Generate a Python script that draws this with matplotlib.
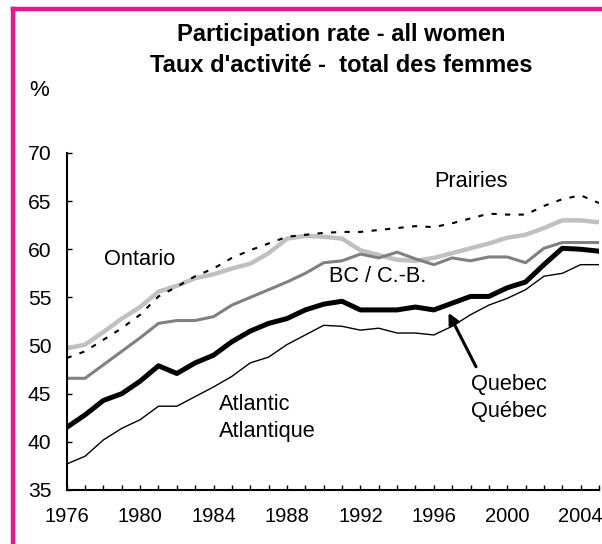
import matplotlib
matplotlib.use("Agg")
import matplotlib.pyplot as plt
from matplotlib.lines import Line2D
from matplotlib.ticker import MultipleLocator
import numpy as np

plt.rcParams['font.family'] = ['Liberation Sans', 'DejaVu Sans']

# Participation rate of women by region, 1976-2005 (%)
years = np.arange(1976, 2006)
atlantic = [37.7, 38.5, 40.2, 41.4, 42.3, 43.7, 43.7, 44.7, 45.7, 46.8,
            48.2, 48.8, 50.1, 51.1, 52.1, 52.0, 51.6, 51.8, 51.3, 51.3,
            51.1, 52.0, 53.2, 54.2, 54.9, 55.8, 57.2, 57.5, 58.4, 58.4]
quebec = [41.5, 42.8, 44.3, 45.0, 46.3, 47.9, 47.1, 48.2, 49.0, 50.4,
          51.5, 52.3, 52.8, 53.7, 54.3, 54.6, 53.7, 53.7, 53.7, 54.0,
          53.7, 54.4, 55.1, 55.1, 56.0, 56.6, 58.4, 60.1, 60.0, 59.8]
bc = [46.6, 46.6, 48.0, 49.4, 50.8, 52.3, 52.6, 52.6, 53.0, 54.2,
      55.0, 55.8, 56.6, 57.5, 58.6, 58.8, 59.5, 59.1, 59.7, 59.0,
      58.4, 59.1, 58.8, 59.2, 59.2, 58.6, 60.1, 60.7, 60.7, 60.7]
ontario = [49.7, 50.1, 51.4, 52.8, 54.0, 55.6, 56.2, 57.0, 57.4, 58.0,
           58.5, 59.6, 61.1, 61.4, 61.3, 61.1, 59.9, 59.4, 58.9, 58.8,
           59.1, 59.6, 60.1, 60.6, 61.2, 61.5, 62.2, 63.0, 63.0, 62.8]
prairies = [48.7, 49.4, 50.6, 51.8, 53.2, 55.1, 56.1, 57.2, 58.0, 59.1,
            59.9, 60.6, 61.3, 61.5, 61.7, 61.8, 61.8, 62.0, 62.2, 62.4,
            62.3, 62.7, 63.2, 63.7, 63.6, 63.6, 64.5, 65.2, 65.6, 64.8]

fig = plt.figure(figsize=(6.02, 5.44), dpi=100)
ax = fig.add_axes([0.1108, 0.0993, 0.8842, 0.6195])

ax.plot(years, ontario, color='#c0c0c0', lw=3.2, solid_joinstyle='miter')
ax.plot(years, bc, color='#808080', lw=2.2)
ax.plot(years, atlantic, color='black', lw=1.0)
ax.plot(years, quebec, color='black', lw=3.6)
ax.plot(years, prairies, color='black', lw=1.5, linestyle=(0, (2.5, 4.0)))

ax.set_xlim(1976, 2005)
ax.set_ylim(35, 70)
ax.xaxis.set_major_locator(MultipleLocator(4))
ax.xaxis.set_minor_locator(MultipleLocator(1))
ax.yaxis.set_major_locator(MultipleLocator(5))
ax.tick_params(axis='both', which='both', direction='in', length=3.6, width=1.0)
ax.tick_params(axis='x', pad=12, labelsize=14.5)
ax.tick_params(axis='y', pad=11, labelsize=15.2)
for side in ['top', 'right']:
    ax.spines[side].set_visible(False)
for side in ['left', 'bottom']:
    ax.spines[side].set_linewidth(1.5)

# series labels
lab = dict(fontsize=15.7, color='black')
ax.text(1998.0, 67.0, 'Prairies', ha='center', va='center', **lab)
ax.text(1980.0, 58.9, 'Ontario', ha='center', va='center', **lab)
ax.text(1990.3, 57.2, 'BC / C.-B.', ha='left', va='center', **lab)
ax.text(2000.1, 46.0, 'Quebec', ha='center', va='center', **lab)
ax.text(2000.1, 43.1, 'Québec', ha='center', va='center', **lab)
ax.text(1984.3, 43.9, 'Atlantic', ha='left', va='center', **lab)
ax.text(1984.3, 41.1, 'Atlantique', ha='left', va='center', **lab)
ax.annotate('', xy=(1996.8, 53.4), xytext=(1998.3, 47.8),
            arrowprops=dict(arrowstyle='-|>', color='black', lw=2.2,
                            mutation_scale=16, shrinkA=0, shrinkB=0))

fig.text(341 / 602, 1 - 35 / 544, 'Participation rate - all women',
         ha='center', va='center', fontsize=17, fontweight='bold')
fig.text(341 / 602, 1 - 66 / 544, "Taux d'activité -  total des femmes",
         ha='center', va='center', fontsize=17, fontweight='bold')
fig.text(39 / 602, 1 - 90 / 544, '%', ha='center', va='center', fontsize=16)

# pink frame (top and left edges visible)
pink = '#e8178a'
fig.add_artist(Line2D([12.5 / 602, 1.0], [1 - 9 / 544, 1 - 9 / 544],
                      transform=fig.transFigure, color=pink, lw=3.2))
fig.add_artist(Line2D([12.5 / 602, 12.5 / 602], [0.0, 1 - 9 / 544],
                      transform=fig.transFigure, color=pink, lw=3.2,
                      solid_capstyle='projecting'))

fig.savefig('out.png', dpi=100)
